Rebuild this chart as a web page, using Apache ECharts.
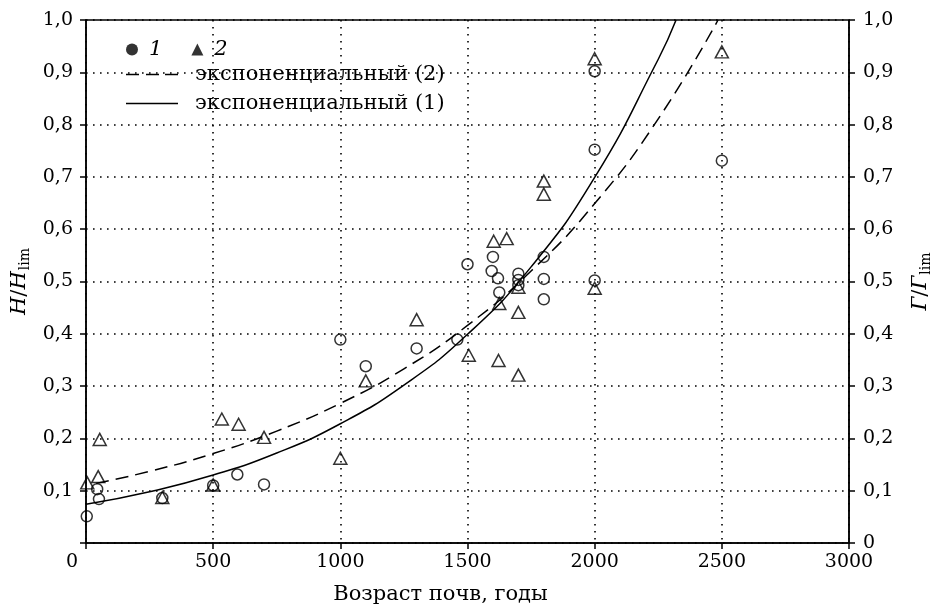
<!DOCTYPE html>
<html><head><meta charset="utf-8">
<script src="https://cdn.jsdelivr.net/npm/echarts@6/dist/echarts.min.js"></script>
<style>html,body{margin:0;padding:0;background:#fff}#c{width:941px;height:610px}</style>
</head><body><div id="c"></div>
<script>
// Series 1 (circles)
const circleX = [3, 44, 51, 300, 500, 595, 700, 1000, 1100, 1300, 1460, 1500, 1600, 1595, 1620, 1625, 1700, 1700, 1700, 1800, 1800, 1800, 2000, 2000, 2000, 2500];
const circleY = [0.051, 0.103, 0.084, 0.086, 0.110, 0.131, 0.112, 0.389, 0.338, 0.372, 0.389, 0.533, 0.547, 0.520, 0.506, 0.479, 0.515, 0.503, 0.493, 0.547, 0.505, 0.466, 0.902, 0.752, 0.502, 0.731];
// Series 2 (triangles)
const triX = [5, 48, 54, 300, 500, 534, 600, 700, 1000, 1100, 1300, 1505, 1603, 1622, 1625, 1654, 1700, 1700, 1700, 1800, 1800, 2000, 2000, 2500];
const triY = [0.115, 0.127, 0.198, 0.087, 0.111, 0.237, 0.227, 0.202, 0.162, 0.310, 0.427, 0.359, 0.577, 0.349, 0.458, 0.582, 0.489, 0.441, 0.321, 0.692, 0.667, 0.926, 0.487, 0.939];
// Exponential trend (1), solid
const exp1X = [0, 250, 500, 750, 1000, 1250, 1500, 1750, 2000, 2250, 2320];
const exp1Y = [0.074, 0.098, 0.130, 0.172, 0.228, 0.302, 0.399, 0.528, 0.699, 0.925, 1.0];
// Exponential trend (2), dashed
const exp2X = [40, 250, 500, 750, 1000, 1250, 1500, 1750, 2000, 2250, 2485];
const exp2Y = [0.114, 0.137, 0.171, 0.214, 0.267, 0.333, 0.416, 0.520, 0.649, 0.811, 1.0];
// Labels
const seriesNames = ['1', '2', 'экспоненциальный (2)', 'экспоненциальный (1)'];
const xTitle = 'Возраст почв, годы';

const F = 'DejaVu Serif';
const FS = 19;
const FT = 21;
const zip = (xs, ys) => xs.map((x, i) => [x, ys[i]]);
const fmt = v => v.toFixed(1).replace('.', ',');
const dotted = { color: '#000', width: 1.6, type: [1.6, 5.4] };
const axisLineStyle = { color: '#000', width: 1.5 };
const dashIcon = 'path://M0,0H13V1.5H0Z M20,0H33V1.5H20Z M39,0H52V1.5H39Z';
const solidIcon = 'path://M0,0H52V1.5H0Z';

const chart = echarts.init(document.getElementById('c'), null, { renderer: 'canvas' });
chart.setOption({
  animation: false,
  backgroundColor: '#fff',
  grid: { left: 86, right: 78, top: 20, bottom: 62, show: true, borderColor: '#000', borderWidth: 1.5, backgroundColor: 'transparent' },
  legend: [
    {
      data: [
        { name: seriesNames[0], icon: 'circle', itemStyle: { color: '#000', borderWidth: 0 } },
        { name: seriesNames[1], icon: 'triangle', itemStyle: { color: '#000', borderWidth: 0 } }
      ],
      left: 126, top: 39, orient: 'horizontal', padding: 0,
      itemWidth: 12, itemHeight: 12, itemGap: 29,
      textStyle: { fontFamily: F, fontSize: FT, fontStyle: 'italic', color: '#000', padding: [0, 0, 0, 6] },
      selectedMode: false
    },
    {
      data: [
        { name: seriesNames[2], icon: dashIcon, itemStyle: { color: '#000', borderWidth: 0, opacity: 1 } },
        { name: seriesNames[3], icon: solidIcon, itemStyle: { color: '#000', borderWidth: 0, opacity: 1 } }
      ],
      left: 126, top: 64, orient: 'vertical', padding: 0,
      itemWidth: 52, itemHeight: 14, itemGap: 8, symbolKeepAspect: true,
      textStyle: { fontFamily: F, fontSize: FT, color: '#000', padding: [0, 0, 0, 12], lineHeight: 20 },
      selectedMode: false
    }
  ],
  xAxis: {
    type: 'value', min: 0, max: 3000, interval: 500, position: 'bottom',
    axisLine: { show: true, lineStyle: axisLineStyle },
    axisTick: { show: true, length: 6, inside: false, lineStyle: axisLineStyle },
    axisLabel: {
      color: '#000', fontFamily: F, fontSize: FS, margin: 10,
      formatter: v => v === 0 ? '{z|0}' : String(v),
      rich: { z: { fontFamily: F, fontSize: FS, color: '#000', padding: [0, 28, 0, 0] } }
    },
    splitLine: { show: true, lineStyle: dotted },
    name: xTitle, nameLocation: 'middle', nameGap: 41,
    nameTextStyle: { fontFamily: F, fontSize: FT, color: '#000', padding: [0, 54, 0, 0] }
  },
  yAxis: [
    {
      type: 'value', min: 0, max: 1, interval: 0.1, position: 'left',
      axisLine: { show: true, lineStyle: axisLineStyle },
      axisTick: { show: true, length: 6, inside: false, lineStyle: axisLineStyle },
      axisLabel: { color: '#000', fontFamily: F, fontSize: FS, margin: 13, formatter: v => v === 0 ? '' : fmt(v) },
      splitLine: { show: true, lineStyle: dotted },
      name: '{i|H}{n|/}{i|H}{s|lim}', nameLocation: 'middle', nameGap: 54, nameRotate: 90,
      nameTextStyle: {
        rich: {
          i: { fontFamily: F, fontSize: FT, fontStyle: 'italic', color: '#000' },
          n: { fontFamily: F, fontSize: FT, color: '#000' },
          s: { fontFamily: F, fontSize: 14, color: '#000', padding: [10, 0, 0, 1] }
        }
      }
    },
    {
      type: 'value', min: 0, max: 1, interval: 0.1, position: 'right',
      axisLine: { show: true, lineStyle: axisLineStyle },
      axisTick: { show: true, length: 6, inside: false, lineStyle: axisLineStyle },
      axisLabel: { color: '#000', fontFamily: F, fontSize: FS, margin: 14, formatter: v => v === 0 ? '0' : fmt(v) },
      splitLine: { show: false },
      name: '{i|Г}{n|/}{i|Г}{s|lim}', nameLocation: 'middle', nameGap: 60, nameRotate: 90,
      nameTextStyle: {
        rich: {
          i: { fontFamily: F, fontSize: FT, fontStyle: 'italic', color: '#000' },
          n: { fontFamily: F, fontSize: FT, color: '#000' },
          s: { fontFamily: F, fontSize: 14, color: '#000', padding: [10, 0, 0, 1] }
        }
      }
    }
  ],
  series: [
    {
      name: seriesNames[2], type: 'line', smooth: true, symbol: 'none', showSymbol: false,
      data: zip(exp2X, exp2Y), clip: true, z: 2,
      lineStyle: { color: '#000', width: 1.5, type: [13, 7] },
      itemStyle: { color: '#000' }
    },
    {
      name: seriesNames[3], type: 'line', smooth: true, symbol: 'none', showSymbol: false,
      data: zip(exp1X, exp1Y), clip: true, z: 2,
      lineStyle: { color: '#000', width: 1.5 },
      itemStyle: { color: '#000' }
    },
    {
      name: seriesNames[0], type: 'scatter', symbol: 'circle', symbolSize: 11,
      data: zip(circleX, circleY), clip: false, z: 3,
      itemStyle: { color: 'rgba(0,0,0,0)', borderColor: '#000', borderWidth: 1.5 },
      emphasis: { disabled: true }
    },
    {
      name: seriesNames[1], type: 'scatter', symbol: 'triangle', symbolSize: [13, 12],
      data: zip(triX, triY), clip: false, z: 3,
      itemStyle: { color: 'rgba(0,0,0,0)', borderColor: '#000', borderWidth: 1.5 },
      emphasis: { disabled: true }
    }
  ]
});
</script>
</body></html>
